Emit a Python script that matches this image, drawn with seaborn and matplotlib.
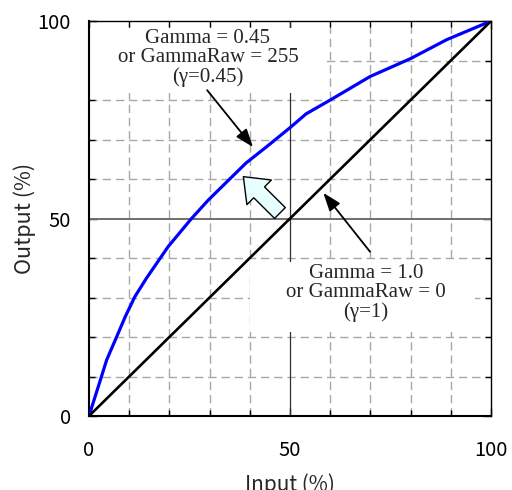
import numpy as np
import pandas as pd
import seaborn as sns
import matplotlib.pyplot as plt
from matplotlib.patches import Rectangle
from matplotlib.ticker import MultipleLocator

# curves (percent)
gamma_in = [0, 2.3, 4.4, 6.9, 9, 11.4, 14.3, 19.7, 25.5, 29.7, 39, 44.2, 50, 54, 60, 70, 80, 89, 100]
gamma_out = [0, 7.4, 14.2, 20.1, 25.1, 30.2, 34.9, 42.9, 50, 54.7, 64, 68.2, 73, 76.5, 80, 86, 90.5, 95.3, 100]
linear_in = [0, 100]
linear_out = [0, 100]

major_ticks = [0, 50, 100]
label_top = "Gamma = 0.45\nor GammaRaw = 255\n(\u03b3=0.45)"
label_bottom = "Gamma = 1.0\nor GammaRaw = 0\n(\u03b3=1)"

sns.set_style("ticks")
plt.rcParams['font.family'] = ['Noto Sans CJK JP', 'DejaVu Sans']

fig = plt.figure(figsize=(5.12, 4.90), dpi=100)
ax = fig.add_axes([0.1738, 0.151, 0.7852, 0.806])

df_g = pd.DataFrame({"x": gamma_in, "y": gamma_out})
df_l = pd.DataFrame({"x": linear_in, "y": linear_out})
sns.lineplot(data=df_g, x="x", y="y", ax=ax, color="#0000ff", lw=2.3, zorder=4, sort=False)
sns.lineplot(data=df_l, x="x", y="y", ax=ax, color="black", lw=1.9, zorder=4)

ax.set_xlim(0, 100)
ax.set_ylim(0, 100)
ax.set_xticks(major_ticks)
ax.set_yticks(major_ticks)
ax.xaxis.set_minor_locator(MultipleLocator(10))
ax.yaxis.set_minor_locator(MultipleLocator(10))
ax.tick_params(which="both", direction="in", top=True, right=True, colors="black")
ax.tick_params(which="major", length=6, width=1, labelsize=14.5)
ax.tick_params(which="minor", length=4, width=1)
ax.tick_params(axis="x", which="major", pad=17)
ax.tick_params(axis="y", which="major", pad=13)

# dashed grid every 10, solid at 50
ax.set_axisbelow(True)
ax.grid(True, which="minor", color="#a8a8a8", lw=1, ls=(0, (6, 3.5)))
ax.grid(False, which="major")
ax.axhline(50, color="#6e6e6e", lw=1.4, zorder=1)
ax.axvline(50, color="#303030", lw=0.9, zorder=1)

for s in ["left", "bottom"]:
    ax.spines[s].set_linewidth(1.5)
for s in ["top", "right"]:
    ax.spines[s].set_linewidth(1.0)
for s in ax.spines.values():
    s.set_color("black")

# white areas behind the labels
ax.add_patch(Rectangle((0, 81.8), 58.7, 16.4, fc="white", ec="none", zorder=1.5))
ax.add_patch(Rectangle((40, 21.3), 56, 17.6, fc="white", ec="none", zorder=1.5))

ax.text(29.6, 90.6, label_top, ha="center", va="center", fontsize=15,
        family="Liberation Serif", linespacing=1.0, zorder=5)
ax.text(68.9, 31.1, label_bottom, ha="center", va="center", fontsize=15,
        family="Liberation Serif", linespacing=1.0, zorder=5)

arrow = dict(arrowstyle="-|>,head_length=0.55,head_width=0.2", mutation_scale=20,
             lw=1.3, color="black", shrinkA=0, shrinkB=0)
ax.annotate("", xy=(40.8, 68.1), xytext=(29.4, 82.5), arrowprops=arrow, zorder=5)
ax.annotate("", xy=(58.3, 56.5), xytext=(69.9, 41.6), arrowprops=arrow, zorder=5)

# hollow block arrow
ax.annotate("", xy=(38.4, 60.6), xytext=(47.5, 51.4),
            arrowprops=dict(arrowstyle="simple,head_length=1.6,head_width=2.5,tail_width=1.1",
                            mutation_scale=10, fc="#e8ffff", ec="black", lw=1.0,
                            shrinkA=0, shrinkB=0), zorder=5)

ax.set_xlabel("Input (%)", fontsize=15, labelpad=9)
ax.set_ylabel("Output (%)", fontsize=15.5, labelpad=1)

fig.savefig("out.png", dpi=100)
